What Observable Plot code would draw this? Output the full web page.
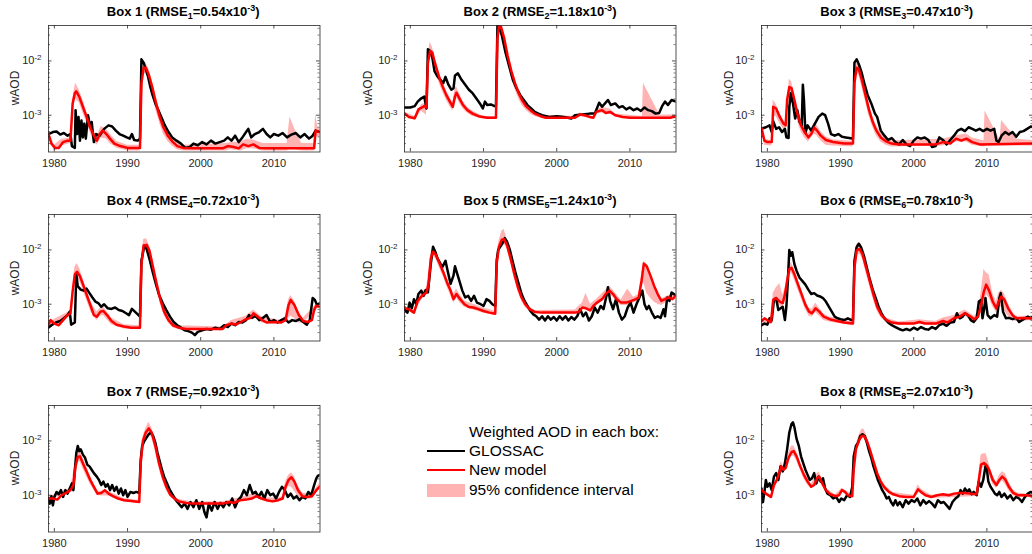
<!DOCTYPE html>
<html><head><meta charset="utf-8">
<script src="https://cdn.jsdelivr.net/npm/d3@7"></script>
<script src="https://cdn.jsdelivr.net/npm/@observablehq/plot@0.6"></script>
<style>
body{margin:0;background:#fff;}
#fig{position:relative;width:1032px;height:554px;overflow:hidden;background:#fff;font-family:"Liberation Sans",Arial,Helvetica,sans-serif;}
.panel{position:absolute;}
.ttl{position:absolute;text-align:center;font-weight:bold;font-size:13px;color:#000;white-space:nowrap;line-height:14px;height:14px;}
.ttl sub{font-size:9px;vertical-align:-3px;line-height:0;}
.ttl sup{font-size:9px;vertical-align:5px;line-height:0;}
.ylab{position:absolute;width:60px;height:14px;line-height:14px;text-align:center;font-size:12px;color:#262626;transform:rotate(-90deg);transform-origin:50% 50%;}
.lg{position:absolute;font-size:15.5px;color:#000;white-space:nowrap;line-height:18px;height:18px;}
.lgsym{position:absolute;}
</style>
</head><body><div id="fig"></div>
<script>
// ---------------- data (wAOD in units of 1e-3) ----------------
const boxNames = ["Box 1","Box 2","Box 3","Box 4","Box 5","Box 6","Box 7","Box 8"];
const rmse = ["0.54","1.18","0.47","0.72","1.24","0.78","0.92","2.07"];
const xTickYears = [1980,1990,2000,2010];
const yMajorTicks = [1e-3,1e-2];
const yMinorTicks = [3e-4,4e-4,5e-4,6e-4,7e-4,8e-4,9e-4,2e-3,3e-3,4e-3,5e-3,6e-3,7e-3,8e-3,9e-3,2e-2,3e-2,4e-2];

// [year, value] pairs
const box1Glossac = [1979.2,.45,1979.8,.49,1980.3,.50,1980.8,.44,1981.3,.47,1981.8,.42,1982.2,.45,1982.4,.27,1982.8,.25,1982.9,1.24,1983.1,.45,1983.3,.93,1983.5,.34,1983.7,.80,1983.9,.39,1984.1,.70,1984.3,.37,1984.6,1.0,1984.9,.60,1985.1,.75,1985.4,.32,1985.7,.45,1986.2,.42,1986.8,.56,1987.4,.65,1987.9,.62,1988.4,.52,1988.9,.45,1989.4,.42,1989.9,.39,1990.3,.37,1990.6,.45,1990.9,.35,1991.4,.34,1991.7,.37,1991.9,10.7,1992.2,9.3,1992.5,7.0,1992.8,5.2,1993.1,3.4,1993.4,2.4,1993.8,1.65,1994.2,1.25,1994.7,.87,1995.1,.65,1995.6,.49,1996.1,.39,1996.7,.34,1997.3,.30,1997.9,.25,1998.5,.26,1999.0,.30,1999.6,.28,2000.2,.32,2000.8,.29,2001.4,.34,2002.0,.30,2002.6,.32,2003.2,.34,2003.7,.39,2004.2,.34,2004.7,.42,2005.2,.32,2005.7,.39,2006.2,.49,2006.5,.56,2006.9,.39,2007.4,.45,2008.0,.49,2008.5,.56,2009.0,.45,2009.5,.39,2010.0,.45,2010.6,.42,2011.2,.47,2011.8,.39,2012.4,.44,2013.0,.47,2013.6,.39,2014.2,.45,2014.8,.37,2015.3,.42,2015.7,.52,2016.3,.49];
const box1Model = [1979.2,.45,1979.6,.30,1980.1,.25,1980.6,.25,1981.2,.32,1981.8,.34,1982.2,.34,1982.5,1.65,1982.8,2.55,1983.0,2.75,1983.4,2.2,1983.9,1.43,1984.4,.93,1984.9,.60,1985.4,.42,1985.8,.34,1986.2,.45,1986.6,.52,1987.1,.45,1987.6,.37,1988.2,.30,1989.0,.27,1990.0,.25,1991.0,.25,1991.7,.25,1991.9,3.9,1992.2,7.5,1992.5,7.5,1992.9,5.6,1993.4,3.2,1993.9,1.65,1994.4,.93,1994.9,.60,1995.5,.42,1996.1,.33,1996.8,.27,1997.6,.25,1999.0,.245,2003.0,.245,2003.7,.27,2004.5,.26,2005.2,.245,2005.8,.29,2006.5,.27,2007.2,.29,2008.0,.25,2009.0,.245,2015.5,.245,2015.7,.52,2016.3,.49];
// [year, low, high] triplets
const box1Ci = [1979.2,.40,.50,1980.0,.22,.28,1981.0,.27,.36,1982.2,.30,.38,1982.5,1.2,2.0,1982.9,2.0,3.9,1983.4,1.7,2.9,1983.9,1.1,1.9,1984.4,.75,1.2,1984.9,.48,.75,1985.4,.34,.50,1985.8,.28,.40,1986.4,.38,.62,1987.1,.37,.55,1987.6,.30,.45,1988.5,.25,.33,1990.0,.22,.28,1991.7,.22,.28,1991.9,3.0,5.0,1992.2,6.0,9.0,1992.5,5.8,9.2,1992.9,4.2,7.2,1993.4,2.4,4.2,1993.9,1.2,2.2,1994.4,.70,1.25,1994.9,.45,.80,1995.5,.33,.55,1996.1,.27,.42,1996.8,.23,.33,1997.6,.22,.28,2003.5,.22,.30,2004.0,.23,.31,2005.5,.22,.32,2006.3,.24,.36,2007.2,.24,.35,2008.5,.22,.30,2011.8,.22,.30,2012.2,.24,.93,2013.0,.23,.50,2013.8,.22,.30,2015.5,.22,.30,2015.7,.40,1.05,2016.0,.40,.60,2016.3,.40,.55];

const box2Glossac = [1979.2,1.39,1980.0,1.39,1980.6,1.47,1981.0,1.78,1981.5,2.05,1981.9,2.2,1982.2,1.33,1982.4,16.5,1982.7,15.3,1983.0,11.6,1983.3,6.5,1983.7,5.2,1984.1,4.5,1984.5,3.9,1984.8,5.1,1985.2,3.65,1985.6,2.95,1985.9,3.15,1986.1,5.4,1986.5,5.9,1987.0,4.5,1987.5,3.65,1988.0,2.95,1988.5,2.55,1989.0,2.05,1989.5,1.65,1989.9,1.33,1990.2,1.78,1990.5,1.54,1991.0,1.58,1991.5,1.47,1991.7,1.5,1991.9,45,1992.1,42,1992.5,29.5,1993.0,14.3,1993.5,8.0,1994.0,4.5,1994.5,3.15,1995.0,2.37,1995.5,1.91,1996.0,1.54,1996.5,1.33,1997.0,1.15,1997.5,1.07,1998.0,1.0,1999.0,.93,2000.0,.96,2001.0,.93,2002.0,.87,2002.5,1.0,2003.5,1.03,2004.5,1.07,2005.2,1.07,2005.8,1.7,2006.2,1.43,2006.6,1.65,2007.0,1.91,2007.4,1.54,2008.0,1.65,2008.5,1.39,2009.0,1.47,2009.5,1.28,2010.0,1.39,2010.5,1.24,2011.0,1.33,2011.5,1.2,2012.0,1.39,2012.5,1.24,2013.0,1.19,2013.5,1.07,2014.0,1.1,2014.4,1.47,2014.8,1.78,2015.2,1.54,2015.7,1.91,2016.3,1.78];
const box2Model = [1979.2,1.07,1979.8,.93,1980.6,.88,1981.1,1.28,1981.6,1.39,1981.9,1.47,1982.2,1.39,1982.4,9.3,1982.7,15.3,1983.0,14.3,1983.4,8.7,1983.9,5.2,1984.4,3.4,1984.9,2.37,1985.4,1.78,1985.8,1.43,1986.1,2.2,1986.3,2.6,1986.7,2.05,1987.2,1.54,1987.8,1.24,1988.5,1.07,1989.3,.96,1990.5,.90,1991.7,.90,1991.9,25,1992.1,45,1992.4,42,1992.8,27,1993.3,12.3,1993.8,6.5,1994.3,3.9,1994.8,2.55,1995.3,1.86,1995.8,1.47,1996.4,1.24,1997.0,1.07,1997.8,.96,1998.5,.90,2002.5,.90,2003.2,1.03,2003.8,1.0,2004.5,.93,2005.0,.90,2005.4,1.15,2006.2,1.24,2006.7,1.1,2007.3,1.15,2008.0,1.0,2009.0,.93,2010.0,.90,2015.5,.90,2016.3,.96];
const box2Ci = [1979.2,1.0,1.15,1980.6,.80,.95,1981.5,1.2,1.55,1982.2,1.0,1.7,1982.4,7,12,1982.7,12,22,1983.0,11,18,1983.4,6.8,11,1983.9,4.0,6.5,1984.4,2.7,4.2,1984.9,1.9,2.9,1985.4,1.45,2.15,1985.8,1.2,1.7,1986.1,1.8,3.0,1986.3,2.1,3.4,1986.7,1.7,2.5,1987.2,1.3,1.8,1987.8,1.1,1.4,1988.5,.95,1.2,1990.0,.85,.95,1991.7,.85,.95,1991.9,20,30,1992.1,37,52,1992.4,34,48,1992.8,20,32,1993.3,9.5,14,1993.8,5.0,7.5,1994.3,3.0,4.5,1994.8,2.0,2.9,1995.3,1.5,2.1,1995.8,1.25,1.65,1996.4,1.05,1.35,1997.0,.95,1.15,1998.0,.87,1.0,2002.5,.87,.95,2003.2,.95,1.1,2005.0,.85,.95,2005.4,1.05,1.25,2006.2,1.1,1.4,2007.3,1.05,1.3,2008.0,.95,1.05,2011.7,.88,.95,2011.85,.9,3.9,2014.1,.88,1.0,2016.3,.9,1.02];

const box3Glossac = [1979.2,.56,1979.8,.60,1980.3,.65,1980.6,.49,1980.8,.78,1981.2,.56,1981.6,.60,1982.0,.49,1982.4,.56,1982.6,.39,1982.9,.38,1983.0,1.43,1983.2,2.55,1983.5,1.65,1983.8,.87,1984.1,1.24,1984.4,.75,1984.7,.65,1984.85,3.65,1985.0,1.91,1985.2,.47,1985.5,.65,1986.0,.52,1986.5,.70,1987.0,.93,1987.5,1.07,1987.9,1.0,1988.3,.70,1988.7,.45,1989.2,.42,1989.7,.45,1990.2,.40,1990.7,.39,1991.2,.38,1991.7,.37,1991.9,9.3,1992.2,10.7,1992.5,8.7,1992.9,6.0,1993.3,3.65,1993.7,2.37,1994.2,1.65,1994.7,1.07,1995.0,.93,1995.5,.52,1996.0,.42,1996.5,.35,1997.0,.38,1997.5,.32,1998.0,.29,1998.5,.35,1999.0,.29,1999.5,.27,2000.0,.34,2000.5,.39,2001.0,.37,2001.5,.39,2002.0,.35,2002.5,.26,2003.0,.27,2003.5,.39,2004.0,.35,2004.5,.29,2005.0,.35,2005.5,.42,2006.0,.52,2006.5,.56,2007.0,.51,2007.5,.60,2008.0,.56,2008.5,.52,2009.0,.56,2009.5,.51,2010.0,.56,2010.5,.52,2011.0,.56,2011.3,.34,2011.6,.32,2012.0,.42,2012.5,.49,2013.0,.44,2013.5,.49,2014.0,.40,2014.5,.49,2015.0,.51,2015.5,.56,2016.0,.62,2016.3,.60];
const box3Model = [1979.2,.58,1979.6,.34,1980.0,.32,1980.6,.32,1980.8,1.43,1981.2,1.33,1981.7,.93,1982.2,.70,1982.5,.65,1982.7,1.91,1983.0,3.3,1983.3,3.15,1983.7,1.91,1984.1,1.07,1984.6,.65,1985.1,.49,1985.6,.39,1986.0,.45,1986.4,.59,1986.8,.52,1987.3,.42,1988.0,.35,1989.0,.32,1990.5,.30,1991.7,.30,1991.9,3.9,1992.2,7.5,1992.5,7.0,1992.9,4.5,1993.4,2.37,1993.9,1.24,1994.4,.75,1994.9,.52,1995.5,.39,1996.2,.33,1997.0,.30,1998.0,.29,2003.0,.29,2004.0,.32,2005.0,.30,2005.8,.37,2006.5,.34,2007.2,.37,2008.0,.32,2009.0,.29,2016.3,.30];
const box3Ci = [1979.2,.55,.60,1979.6,.28,.36,1980.6,.27,.34,1980.8,1.0,1.9,1981.2,.95,1.6,1981.7,.70,1.1,1982.2,.55,.80,1982.5,.50,.75,1983.0,2.3,4.6,1983.3,2.3,4.2,1983.7,1.4,2.5,1984.1,.80,1.4,1984.6,.50,.85,1985.1,.38,.62,1985.6,.32,.45,1986.4,.45,.72,1986.8,.42,.65,1987.3,.34,.50,1988.0,.28,.40,1989.0,.27,.35,1991.7,.26,.33,1991.9,3.0,5.0,1992.2,6.0,9.2,1992.5,5.5,8.5,1992.9,3.4,5.8,1993.4,1.8,3.1,1993.9,.95,1.6,1994.4,.60,.95,1994.9,.42,.65,1995.5,.32,.48,1996.2,.28,.38,1997.0,.26,.34,2004.0,.27,.36,2005.8,.32,.42,2007.2,.32,.45,2008.0,.28,.38,2009.6,.26,.34,2009.75,.27,1.2,2011.8,.27,.35,2012.0,.27,.80,2014.1,.27,.36,2016.3,.27,.34];

const box4Glossac = [1979.2,.37,1979.6,.41,1980.2,.46,1980.8,.49,1981.3,.55,1981.8,.63,1982.1,.73,1982.3,.42,1982.8,.46,1983.0,3.55,1983.2,2.15,1983.6,1.86,1984.0,1.78,1984.4,1.94,1984.8,1.6,1985.2,1.33,1985.6,1.12,1986.0,1.05,1986.4,.90,1986.8,1.0,1987.3,.84,1987.8,.82,1988.3,.87,1988.8,.78,1989.3,.75,1989.8,.68,1990.2,.63,1990.6,.82,1991.0,.73,1991.5,.63,1991.7,.59,1991.9,6.3,1992.3,12.1,1992.6,10.5,1993.0,6.8,1993.4,4.1,1993.9,2.3,1994.3,1.5,1994.8,1.05,1995.3,.78,1995.8,.59,1996.3,.47,1996.8,.41,1997.3,.37,1997.8,.33,1998.3,.32,1998.8,.30,1999.2,.27,1999.6,.31,2000.2,.33,2000.8,.35,2001.4,.34,2002.0,.37,2002.6,.35,2003.2,.41,2003.7,.38,2004.2,.44,2004.7,.41,2005.2,.47,2005.7,.46,2006.2,.51,2006.6,.63,2007.0,.56,2007.5,.61,2008.0,.51,2008.5,.56,2009.0,.63,2009.5,.47,2010.0,.51,2010.5,.46,2011.0,.51,2011.5,.55,2012.0,.46,2012.5,.51,2013.0,.49,2013.5,.53,2014.0,.47,2014.5,.42,2014.9,.51,2015.3,1.3,2015.6,1.2,2015.9,.97,2016.3,1.05];
const box4Model = [1979.2,.42,1979.5,.51,1980.0,.44,1980.6,.41,1981.2,.51,1981.8,.63,1982.2,.68,1982.5,1.73,1982.8,3.55,1983.1,3.97,1983.5,3.3,1984.0,2.15,1984.5,1.39,1985.0,.90,1985.4,.63,1985.8,.59,1986.3,.73,1986.7,.75,1987.2,.63,1987.8,.49,1988.5,.42,1989.5,.39,1990.5,.37,1991.7,.37,1991.9,5.5,1992.2,12.1,1992.6,12.4,1993.0,9.7,1993.5,4.7,1994.0,2.3,1994.5,1.2,1995.0,.73,1995.6,.51,1996.2,.41,1997.0,.37,1998.0,.35,2003.0,.35,2003.5,.41,2004.2,.44,2004.8,.42,2005.5,.47,2006.2,.53,2006.8,.56,2007.2,.68,2007.8,.59,2008.4,.51,2009.0,.46,2010.0,.47,2011.0,.46,2011.6,.51,2012.0,.97,2012.3,1.2,2012.8,.97,2013.4,.63,2014.0,.49,2014.6,.47,2015.2,.51,2015.5,.78,2015.8,.94,2016.3,.90];
const box4Ci = [1979.2,.38,.46,1982.2,.60,.75,1982.8,2.8,4.8,1983.1,3.1,5.6,1983.5,2.6,4.4,1984.0,1.7,2.7,1984.5,1.1,1.75,1985.0,.72,1.1,1985.8,.50,.72,1986.3,.60,.85,1986.7,.62,.90,1987.8,.42,.56,1989.5,.35,.42,1991.7,.34,.40,1991.9,4.5,7.0,1992.2,10,15.5,1992.6,10,16,1993.0,7.8,12,1993.5,3.8,5.8,1994.0,1.9,2.8,1994.5,1.0,1.45,1995.0,.62,.88,1995.6,.45,.60,1996.2,.37,.46,1997.0,.34,.40,2003.0,.33,.38,2004.2,.40,.50,2006.2,.48,.60,2007.2,.60,.78,2008.4,.45,.58,2011.0,.43,.50,2011.6,.47,.60,2012.0,.55,1.2,2012.3,.60,1.45,2012.8,.55,1.15,2013.4,.45,.72,2014.0,.45,.55,2015.5,.70,.90,2015.8,.88,1.02,2016.3,.85,.95];

const box5Glossac = [1979.2,.81,1979.6,.70,1979.9,1.07,1980.2,.84,1980.5,1.24,1980.8,1.0,1981.1,1.54,1981.5,1.78,1981.8,1.43,1982.1,1.83,1982.4,1.65,1982.8,5.6,1983.1,11.5,1983.4,9.3,1983.7,7.0,1984.1,5.6,1984.4,4.9,1984.8,6.3,1985.1,4.1,1985.5,2.37,1985.9,3.4,1986.1,5.0,1986.4,3.65,1986.7,2.7,1987.1,1.78,1987.5,1.33,1987.9,1.43,1988.3,1.15,1988.7,1.43,1989.1,1.07,1989.6,1.0,1990.0,.93,1990.4,1.24,1990.8,1.15,1991.2,1.0,1991.6,.93,1991.8,6.5,1992.0,10,1992.3,11.5,1992.6,13.3,1992.9,16.5,1993.2,14.3,1993.6,10,1994.0,6.0,1994.4,3.65,1994.8,2.37,1995.2,1.54,1995.6,1.15,1996.0,.93,1996.4,.75,1996.8,.65,1997.2,.60,1997.6,.52,1998.0,.60,1998.4,.50,1998.8,.60,1999.2,.52,1999.6,.58,2000.0,.50,2000.4,.60,2000.8,.52,2001.2,.60,2001.6,.50,2002.0,.58,2002.4,.52,2002.8,.60,2003.2,.81,2003.6,.60,2004.0,.70,2004.4,.50,2004.8,.60,2005.2,.87,2005.6,.70,2006.0,.93,2006.4,.81,2006.8,1.43,2007.0,2.05,2007.3,1.15,2007.7,.81,2008.1,1.24,2008.5,.70,2008.9,.52,2009.3,.60,2009.7,.87,2010.1,1.07,2010.5,.70,2010.9,1.0,2011.3,1.33,2011.7,1.78,2012.0,1.0,2012.3,.81,2012.6,.93,2013.0,.70,2013.4,.56,2013.8,.60,2014.2,.56,2014.6,.81,2014.8,.60,2015.1,1.33,2015.4,1.15,2015.7,1.65,2016.0,1.54,2016.3,1.43];
const box5Model = [1979.2,.84,1979.8,.81,1980.5,.70,1981.0,1.15,1981.6,1.43,1982.2,1.65,1982.5,2.37,1982.8,7.0,1983.1,9.3,1983.5,8.1,1984.0,5.6,1984.5,3.9,1985.0,2.55,1985.5,1.78,1985.9,1.24,1986.3,1.54,1986.8,1.24,1987.4,1.0,1988.0,.89,1988.6,.87,1989.3,.81,1990.0,.75,1990.8,.70,1991.6,.67,1991.8,5.6,1992.1,11.5,1992.5,15.4,1992.8,15.8,1993.2,12.4,1993.7,7.0,1994.2,3.65,1994.7,2.05,1995.2,1.33,1995.7,1.0,1996.3,.81,1997.0,.72,1998.0,.70,2002.5,.70,2003.0,.72,2003.5,.87,2004.0,.84,2004.6,.77,2005.0,.93,2005.5,1.07,2006.2,1.24,2006.7,1.54,2007.2,1.78,2007.7,1.54,2008.2,1.24,2008.8,1.07,2009.5,1.07,2010.2,1.15,2010.8,1.24,2011.2,1.33,2011.6,2.74,2011.9,5.6,2012.3,5.0,2012.8,3.4,2013.3,2.2,2013.8,1.54,2014.3,1.15,2014.8,1.24,2015.3,1.33,2015.8,1.24,2016.3,1.43];
const box5Ci = [1979.2,.80,.90,1980.5,.65,.78,1981.6,1.25,1.7,1982.2,1.4,1.9,1982.8,5.8,8.5,1983.1,7.8,11.5,1983.5,6.8,10,1984.0,4.6,6.8,1984.5,3.2,4.8,1985.0,2.1,3.1,1985.5,1.45,2.15,1985.9,1.05,1.5,1986.3,1.3,1.9,1986.8,1.05,1.5,1987.4,.88,1.15,1988.6,.78,1.0,1990.0,.68,.85,1991.6,.62,.74,1991.8,4.5,7.0,1992.1,9.5,14.5,1992.5,12.5,22,1992.8,13,24,1993.2,10.5,16,1993.7,5.8,8.5,1994.2,3.0,4.4,1994.7,1.75,2.45,1995.2,1.15,1.55,1995.7,.88,1.15,1996.3,.73,.90,1997.0,.68,.77,2002.5,.66,.78,2003.5,.80,1.05,2004.0,.80,1.6,2004.6,.70,1.0,2005.5,.95,1.25,2006.7,1.3,1.8,2007.2,1.5,2.2,2007.7,1.35,1.8,2008.8,.95,1.2,2009.7,.95,1.9,2010.5,1.05,1.35,2011.2,1.15,1.5,2011.6,2.0,3.2,2011.9,2.5,6.2,2012.3,1.6,5.5,2012.8,1.3,3.8,2013.3,1.1,2.4,2013.8,1.0,1.7,2014.3,.95,1.25,2015.3,1.15,1.45,2016.3,1.25,1.55];

const box6Glossac = [1979.2,.41,1979.6,.44,1980.0,.42,1980.3,.55,1980.6,.51,1980.9,1.2,1981.2,1.3,1981.5,.78,1981.8,.84,1982.1,.90,1982.4,.51,1982.6,.90,1982.8,2.66,1983.0,10,1983.2,7.8,1983.4,9.1,1983.7,5.45,1984.0,4.1,1984.4,3.07,1984.8,2.66,1985.2,2.3,1985.6,1.86,1986.0,1.54,1986.4,1.6,1986.8,1.45,1987.2,1.39,1987.6,1.3,1988.0,1.12,1988.4,.90,1988.8,.73,1989.2,.59,1989.6,.55,1990.0,.53,1990.5,.51,1991.0,.55,1991.5,.51,1991.7,.51,1991.9,6.3,1992.2,11.3,1992.5,13,1992.8,11.3,1993.2,7.8,1993.6,4.7,1994.0,2.86,1994.4,1.86,1994.8,1.3,1995.2,.90,1995.6,.68,1996.0,.55,1996.5,.46,1997.0,.41,1997.5,.38,1998.0,.35,1998.5,.33,1999.0,.35,1999.5,.33,2000.0,.37,2000.5,.34,2001.0,.38,2001.5,.35,2002.0,.34,2002.5,.38,2003.0,.35,2003.5,.41,2004.0,.44,2004.5,.40,2005.0,.46,2005.5,.47,2005.9,.68,2006.3,.55,2006.7,.59,2007.0,.68,2007.4,.63,2007.8,.51,2008.2,.47,2008.6,.55,2008.9,1.12,2009.2,1.2,2009.4,.55,2009.6,.78,2009.8,1.3,2010.1,.63,2010.5,.55,2011.0,.63,2011.4,.59,2011.7,1.3,2011.9,1.6,2012.2,.73,2012.6,.55,2013.0,.56,2013.5,.53,2014.0,.56,2014.4,.47,2014.8,.51,2015.2,.55,2015.6,.59,2016.0,.55,2016.3,.59];
const box6Model = [1979.2,.49,1979.6,.55,1980.2,.49,1980.5,.47,1980.8,1.2,1981.2,1.3,1981.7,1.12,1982.1,1.05,1982.4,1.5,1982.7,2.66,1983.0,4.4,1983.3,4.7,1983.7,3.55,1984.2,2.3,1984.7,1.5,1985.2,.97,1985.7,.73,1986.1,.68,1986.6,.84,1987.1,.73,1987.7,.59,1988.5,.53,1989.5,.49,1990.5,.46,1991.7,.44,1991.9,4.7,1992.2,9.7,1992.6,10.5,1993.0,8.4,1993.5,4.7,1994.0,2.66,1994.5,1.5,1995.0,.90,1995.6,.63,1996.3,.51,1997.0,.46,1998.0,.44,2000.0,.44,2000.8,.47,2001.5,.44,2003.0,.44,2004.0,.49,2004.6,.46,2005.5,.55,2006.3,.59,2007.0,.68,2007.6,.61,2008.3,.53,2008.8,.59,2009.2,.97,2009.6,1.73,2009.9,2.3,2010.3,1.78,2010.8,1.12,2011.3,.84,2011.6,1.12,2012.0,1.39,2012.4,1.2,2012.9,.84,2013.5,.63,2014.0,.55,2014.6,.55,2015.2,.56,2016.3,.55];
const box6Ci = [1979.2,.45,.52,1980.5,.42,.50,1980.8,1.0,1.6,1981.2,1.05,2.0,1981.7,.95,2.4,1982.1,.85,1.5,1982.4,1.2,1.9,1982.7,2.2,3.2,1983.0,3.5,5.5,1983.3,3.8,5.8,1983.7,2.8,4.3,1984.2,1.8,2.8,1984.7,1.2,1.8,1985.2,.80,1.15,1985.7,.60,.85,1986.1,.58,.80,1986.6,.70,1.05,1987.1,.60,.85,1987.7,.50,.67,1988.5,.47,.58,1991.7,.40,.47,1991.9,3.8,6.0,1992.2,7.8,12.5,1992.6,8.5,14,1993.0,6.8,10.5,1993.5,3.8,5.8,1994.0,2.1,3.3,1994.5,1.2,1.8,1995.0,.75,1.05,1995.6,.55,.72,1996.3,.47,.55,1998.0,.40,.47,2000.8,.43,.52,2003.0,.40,.48,2004.0,.44,.56,2005.5,.50,.62,2007.0,.60,.78,2008.3,.48,.60,2008.8,.52,.70,2009.2,.75,1.6,2009.6,1.1,4.4,2009.9,1.5,3.8,2010.3,1.3,3.5,2010.8,.90,1.6,2011.3,.70,1.1,2011.6,.85,1.6,2012.0,.90,1.8,2012.4,.75,1.55,2012.9,.60,1.05,2013.5,.50,.72,2014.0,.48,.60,2016.3,.50,.60];

const box7Glossac = [1979.2,.87,1979.4,.70,1979.6,.96,1979.8,.65,1980.0,.93,1980.3,1.15,1980.6,1.04,1980.9,1.24,1981.2,.93,1981.5,1.24,1981.8,1.07,1982.1,1.33,1982.4,1.65,1982.6,1.24,1982.8,2.95,1983.0,6.0,1983.2,8.1,1983.4,6.5,1983.6,7.0,1983.9,5.6,1984.2,4.9,1984.5,3.65,1984.8,3.4,1985.1,2.95,1985.4,2.55,1985.8,2.2,1986.1,1.91,1986.4,1.54,1986.7,1.78,1987.0,1.43,1987.3,1.6,1987.6,1.24,1987.9,1.54,1988.2,1.2,1988.5,1.43,1988.8,1.07,1989.1,1.33,1989.4,1.0,1989.7,1.24,1990.0,.93,1990.4,1.15,1990.8,1.1,1991.2,1.15,1991.6,1.1,1991.8,4.5,1992.0,8.1,1992.3,10,1992.6,11.5,1992.9,13.3,1993.2,14.3,1993.5,12.4,1993.8,9.3,1994.1,6.0,1994.4,4.2,1994.7,2.95,1995.0,2.2,1995.4,1.65,1995.8,1.24,1996.2,1.0,1996.6,.81,1997.0,.70,1997.4,.60,1997.8,.70,1998.2,.56,1998.6,.75,1999.0,.60,1999.4,.81,1999.8,.56,2000.2,.75,2000.5,.49,2000.8,.39,2001.1,.70,2001.5,.52,2001.9,.75,2002.3,.56,2002.7,.72,2003.1,.60,2003.5,.75,2003.9,.65,2004.3,.87,2004.7,.60,2005.1,.81,2005.5,.93,2005.9,1.24,2006.3,1.0,2006.7,1.54,2007.1,1.07,2007.5,1.15,2007.9,.93,2008.3,1.15,2008.7,.87,2009.1,1.24,2009.5,1.0,2009.9,1.07,2010.3,.87,2010.7,1.15,2011.1,1.43,2011.5,1.24,2011.9,.93,2012.3,1.07,2012.7,.87,2013.1,.96,2013.5,.81,2013.9,.93,2014.3,.87,2014.7,1.15,2015.1,1.0,2015.5,1.54,2015.8,2.05,2016.0,2.27,2016.3,2.37];
const box7Model = [1979.2,.87,1979.8,.87,1980.4,.83,1981.0,1.0,1981.6,1.1,1982.2,1.24,1982.6,1.54,1982.9,3.4,1983.2,5.1,1983.5,5.2,1983.9,3.9,1984.4,2.74,1984.9,1.91,1985.4,1.43,1985.9,1.07,1986.4,1.1,1986.9,1.24,1987.4,1.07,1988.0,.96,1988.7,.87,1989.5,.81,1990.5,.78,1991.6,.75,1991.8,3.9,1992.1,10,1992.5,14.3,1992.9,17.0,1993.3,14.3,1993.8,8.1,1994.3,3.9,1994.8,2.2,1995.3,1.43,1995.8,1.04,1996.4,.87,1997.0,.77,1998.0,.72,1999.0,.70,2003.0,.70,2004.0,.75,2004.6,.72,2005.4,.81,2006.2,.83,2007.0,.87,2007.6,.96,2008.3,.87,2009.0,.81,2009.8,.77,2010.6,.81,2011.2,.87,2011.6,1.43,2012.0,1.91,2012.4,2.14,2012.8,1.78,2013.3,1.24,2013.9,.96,2014.5,.93,2015.2,.96,2015.8,1.24,2016.3,1.45];
const box7Ci = [1979.2,.82,.92,1982.2,1.1,1.35,1982.9,2.8,4.0,1983.2,4.0,6.4,1983.5,4.2,6.6,1983.9,3.1,4.9,1984.4,2.2,3.4,1984.9,1.6,2.3,1985.4,1.25,1.65,1985.9,.98,1.18,1987.4,.97,1.17,1989.5,.76,.87,1991.6,.70,.80,1991.8,3.2,4.8,1992.1,8.5,12,1992.5,12,17,1992.9,14,22,1993.3,11.5,17.5,1993.8,6.5,10,1994.3,3.2,4.8,1994.8,1.85,2.6,1995.3,1.25,1.65,1995.8,.95,1.15,1997.0,.72,.83,1999.0,.66,.75,2003.0,.66,.76,2005.4,.75,.90,2007.6,.88,1.1,2009.0,.75,.90,2010.6,.75,.88,2011.2,.80,.95,2011.6,1.15,1.75,2012.0,1.45,2.3,2012.4,1.4,2.6,2012.8,1.2,2.2,2013.3,.95,1.5,2013.9,.85,1.1,2015.2,.85,1.05,2016.3,1.35,1.7];

const box8Glossac = [1979.2,1.33,1979.4,.75,1979.6,1.15,1979.8,1.91,1980.0,1.43,1980.3,1.65,1980.6,1.24,1980.9,2.2,1981.2,2.55,1981.5,1.91,1981.8,3.4,1982.1,2.74,1982.4,3.9,1982.7,7.0,1983.0,14.3,1983.3,20.5,1983.5,22,1983.7,17.8,1984.0,10.8,1984.3,8.1,1984.6,5.2,1984.9,3.9,1985.2,2.95,1985.5,2.37,1985.8,1.91,1986.1,2.05,1986.4,2.55,1986.7,1.65,1987.0,2.2,1987.3,1.78,1987.6,2.05,1987.9,1.33,1988.2,1.07,1988.6,1.0,1989.0,.87,1989.4,.93,1989.8,.75,1990.1,.87,1990.5,.81,1990.9,1.0,1991.3,.93,1991.6,1.43,1991.8,5.2,1992.1,8.1,1992.4,9.3,1992.7,12.4,1993.0,13.3,1993.3,12.4,1993.6,9.3,1993.9,6.5,1994.2,4.9,1994.5,3.4,1994.8,2.55,1995.1,1.91,1995.4,1.54,1995.7,1.24,1996.0,1.07,1996.3,.87,1996.6,.93,1996.9,.75,1997.2,.65,1997.5,.81,1997.8,.65,1998.1,.75,1998.5,.60,1998.9,.81,1999.3,.70,1999.7,.81,2000.1,.75,2000.5,.87,2000.9,.65,2001.3,.81,2001.7,.70,2002.1,.78,2002.5,.70,2002.9,.60,2003.3,.81,2003.7,.72,2004.1,.75,2004.5,.65,2004.9,.56,2005.3,.75,2005.7,.87,2006.1,.96,2006.4,1.24,2006.7,1.07,2007.0,1.33,2007.3,1.15,2007.6,1.28,2007.9,1.04,2008.2,1.15,2008.6,1.0,2008.9,1.78,2009.2,1.43,2009.5,1.91,2009.8,3.4,2010.0,2.95,2010.2,1.78,2010.5,1.43,2010.8,1.24,2011.1,1.07,2011.4,1.0,2011.7,1.15,2012.0,.93,2012.4,1.07,2012.8,.87,2013.2,1.0,2013.6,.81,2014.0,.93,2014.4,.87,2014.8,.75,2015.2,.93,2015.6,1.07,2016.0,1.15,2016.3,1.1];
const box8Model = [1979.2,1.24,1979.8,1.07,1980.5,.93,1980.9,1.54,1981.3,1.91,1981.7,2.74,1981.9,3.4,1982.2,2.95,1982.5,3.16,1982.9,4.9,1983.3,6.2,1983.6,6.5,1984.0,5.2,1984.5,3.4,1985.0,2.37,1985.5,1.78,1986.0,1.43,1986.4,1.54,1986.8,2.05,1987.1,2.2,1987.5,1.65,1988.0,1.24,1988.6,1.04,1989.3,.96,1989.8,1.0,1990.2,1.24,1990.6,1.15,1991.0,1.0,1991.6,.96,1991.8,2.95,1992.1,7.0,1992.5,10,1992.9,12.4,1993.2,12.4,1993.6,10,1994.0,7.0,1994.5,4.2,1995.0,2.55,1995.5,1.78,1996.0,1.39,1996.6,1.15,1997.2,1.04,1998.0,.96,1999.0,.93,2000.0,.93,2000.6,1.28,2001.0,1.15,2001.6,1.0,2002.4,.93,2003.2,1.0,2004.0,1.04,2004.8,1.0,2005.5,1.07,2006.3,1.1,2007.0,1.1,2007.8,1.07,2008.6,1.04,2008.9,1.91,2009.2,3.65,2009.6,3.9,2009.9,3.65,2010.3,2.95,2010.8,1.91,2011.3,1.54,2011.7,1.91,2012.1,2.2,2012.5,1.96,2013.0,1.43,2013.6,1.1,2014.2,1.0,2014.8,1.0,2015.5,1.0,2016.3,.96];
const box8Ci = [1979.2,1.15,1.3,1980.5,.85,1.0,1981.3,1.7,2.2,1981.9,2.9,4.2,1982.2,2.6,3.3,1982.5,2.8,3.5,1982.9,4.0,6.0,1983.3,5.2,8.0,1983.6,5.3,8.2,1984.0,4.3,6.3,1984.5,2.9,4.0,1985.0,2.0,2.8,1985.5,1.55,2.0,1986.0,1.3,1.6,1986.8,1.8,2.5,1987.1,1.9,2.7,1987.5,1.5,1.9,1988.0,1.15,1.35,1989.3,.90,1.02,1990.2,1.15,1.35,1991.6,.90,1.02,1991.8,2.6,3.4,1992.1,6.0,8.2,1992.5,8.8,12.5,1992.9,11,16.5,1993.2,11,16.5,1993.6,8.8,12.5,1994.0,6.0,8.3,1994.5,3.6,5.0,1995.0,2.2,2.9,1995.5,1.55,2.0,1996.0,1.25,1.55,1997.2,.97,1.12,2000.0,.87,1.0,2000.6,1.15,1.55,2001.0,1.05,1.3,2002.4,.87,1.0,2008.6,.95,1.12,2008.9,1.6,2.4,2009.2,3.0,5.5,2009.6,3.2,5.8,2009.9,3.0,5.8,2010.3,2.4,3.8,2010.8,1.6,2.3,2011.3,1.35,1.75,2011.7,1.6,2.3,2012.1,1.85,2.7,2012.5,1.6,2.5,2013.0,1.2,1.75,2013.6,.98,1.25,2014.2,.92,1.1,2016.3,.90,1.02];

const glossacSeries = [box1Glossac,box2Glossac,box3Glossac,box4Glossac,box5Glossac,box6Glossac,box7Glossac,box8Glossac];
const modelSeries = [box1Model,box2Model,box3Model,box4Model,box5Model,box6Model,box7Model,box8Model];
const ciSeries = [box1Ci,box2Ci,box3Ci,box4Ci,box5Ci,box6Ci,box7Ci,box8Ci];

// ---------------- layout ----------------
const colLeft = [47.5, 404.3, 761];
const rowTop = [25, 214.3, 405];
const ylabOffset = [32.5, 36.5, 32.5];
const slots = [[0,0],[1,0],[2,0],[0,1],[1,1],[2,1],[0,2],[2,2]];
const W = 271.5, H = 126.5, ML = 47, MR = 6, MT = 20, MB = 24;
const xDomain = [1979.2, 2016.3];
const yDomain = [2.1e-4, 4.5e-2];
const axisColor = "#262626";

const toPairs = (a) => { const r = []; for (let i = 0; i < a.length; i += 2) r.push({year: a[i], v: a[i+1] * 1e-3}); return r; };
const toTriples = (a) => { const r = []; for (let i = 0; i < a.length; i += 3) r.push({year: a[i], lo: a[i+1] * 1e-3, hi: a[i+2] * 1e-3}); return r; };

const fig = document.getElementById("fig");
const NS = "http://www.w3.org/2000/svg";

boxNames.forEach((name, k) => {
  const [c, r] = slots[k];
  const svg = Plot.plot({
    width: ML + W + MR, height: MT + H + MB,
    marginLeft: ML, marginRight: MR, marginTop: MT, marginBottom: MB,
    style: {fontFamily: '"Liberation Sans", Arial, Helvetica, sans-serif', fontSize: "11px", color: axisColor, background: "transparent", overflow: "visible"},
    x: {domain: xDomain},
    y: {type: "log", domain: yDomain},
    marks: [
      Plot.areaY(toTriples(ciSeries[k]), {x: "year", y1: "lo", y2: "hi", fill: "#ffb3b3", clip: true}),
      Plot.line(toPairs(glossacSeries[k]), {x: "year", y: "v", stroke: "#000", strokeWidth: 2.5, strokeLinejoin: "round", clip: true}),
      Plot.line(toPairs(modelSeries[k]), {x: "year", y: "v", stroke: "#ff0000", strokeWidth: 2.5, strokeLinejoin: "round", clip: true}),
      Plot.frame({stroke: axisColor, strokeWidth: 0.8}),
      Plot.tickY(yMajorTicks, {y: d => d, insetRight: W - 3.5, stroke: axisColor, strokeWidth: 0.8}),
      Plot.tickY(yMajorTicks, {y: d => d, insetLeft: W - 3.5, stroke: axisColor, strokeWidth: 0.8}),
      Plot.tickY(yMinorTicks, {y: d => d, insetRight: W - 2, stroke: axisColor, strokeWidth: 0.6}),
      Plot.tickY(yMinorTicks, {y: d => d, insetLeft: W - 2, stroke: axisColor, strokeWidth: 0.6}),
      Plot.tickX(xTickYears, {x: d => d, insetTop: H - 3.5, stroke: axisColor, strokeWidth: 0.8}),
      Plot.tickX(xTickYears, {x: d => d, insetBottom: H - 3.5, stroke: axisColor, strokeWidth: 0.8}),
      Plot.axisX({ticks: xTickYears, tickSize: 0, tickPadding: 7, tickFormat: d => String(d), label: null}),
      Plot.axisY({ticks: yMajorTicks, tickSize: 0, tickPadding: 7, tickFormat: d => "10^" + Math.round(Math.log10(d)), label: null})
    ]
  });
  // superscript exponents on log tick labels
  svg.querySelectorAll('g[aria-label="y-axis tick label"] text').forEach(t => {
    const parts = t.textContent.split("^");
    if (parts.length < 2) return;
    t.textContent = parts[0];
    const ts = document.createElementNS(NS, "tspan");
    ts.setAttribute("dy", "-0.5em");
    ts.setAttribute("font-size", "8px");
    ts.textContent = parts[1];
    t.appendChild(ts);
  });
  svg.classList.add("panel");
  svg.style.left = (colLeft[c] - ML) + "px";
  svg.style.top = (rowTop[r] - MT) + "px";
  fig.appendChild(svg);

  const t = document.createElement("div");
  t.className = "ttl";
  t.style.left = colLeft[c] + "px";
  t.style.width = W + "px";
  t.style.top = (rowTop[r] - 20) + "px";
  t.innerHTML = name + " (RMSE<sub>" + (k + 1) + "</sub>=" + rmse[k] + "x10<sup>-3</sup>)";
  fig.appendChild(t);

  const yl = document.createElement("div");
  yl.className = "ylab";
  yl.textContent = "wAOD";
  yl.style.left = (colLeft[c] - ylabOffset[c] - 30) + "px";
  yl.style.top = (rowTop[r] + H / 2 - 7) + "px";
  fig.appendChild(yl);
});

// ---------------- legend ----------------
const legendTitle = "Weighted AOD in each box:";
const legendItems = ["GLOSSAC", "New model", "95% confidence interval"];
function addText(txt, x, cy) {
  const d = document.createElement("div");
  d.className = "lg"; d.textContent = txt;
  d.style.left = x + "px"; d.style.top = (cy - 9) + "px";
  fig.appendChild(d);
}
addText(legendTitle, 469, 431.5);
const lgY = [451, 470, 490];
const sym1 = document.createElement("div"); sym1.className = "lgsym";
Object.assign(sym1.style, {left: "427px", top: (lgY[0] - 1.25) + "px", width: "38px", height: "2.5px", background: "#000"});
fig.appendChild(sym1);
const sym2 = document.createElement("div"); sym2.className = "lgsym";
Object.assign(sym2.style, {left: "427px", top: (lgY[1] - 1.25) + "px", width: "38px", height: "2.5px", background: "#ff0000"});
fig.appendChild(sym2);
const sym3 = document.createElement("div"); sym3.className = "lgsym";
Object.assign(sym3.style, {left: "427px", top: "484px", width: "38px", height: "13px", background: "#ffb3b3"});
fig.appendChild(sym3);
legendItems.forEach((s, i) => addText(s, 469, lgY[i]));
</script>
</body></html>
